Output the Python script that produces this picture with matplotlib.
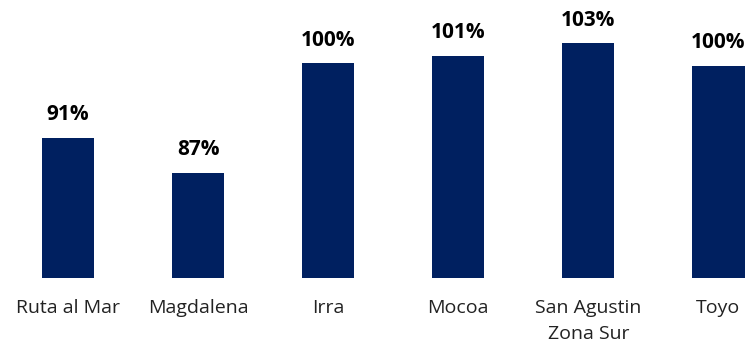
import matplotlib
matplotlib.use("Agg")
import matplotlib.pyplot as plt

# data
categories = ["Ruta al Mar", "Magdalena", "Irra", "Mocoa", "San Agustin\nZona Sur", "Toyo"]
values = [91.2, 87.0, 100.2, 101.1, 102.6, 99.9]
labels = ["91%", "87%", "100%", "101%", "103%", "100%"]

plt.rcParams['font.family'] = ['Open Sans', 'DejaVu Sans']

fig = plt.figure(figsize=(7.54, 3.47), dpi=100)
ax = fig.add_axes([0, 0.198, 1, 0.802])

x = list(range(len(categories)))
bars = ax.bar(x, values, width=0.4, color="#002060", bottom=0)

for b, lab in zip(bars, labels):
    ax.annotate(lab, (b.get_x() + b.get_width() / 2, b.get_height()),
                xytext=(0, 9), textcoords="offset points",
                ha="center", va="bottom", fontsize=15, fontweight="bold",
                color="black")

ax.set_xlim(-0.523, 5.273)
ax.set_ylim(74.3, 107.8)
ax.set_xticks(x)
ax.set_xticklabels(categories, fontsize=14, color="#222222", linespacing=1.55)
ax.tick_params(axis="x", length=0, pad=15)
ax.set_yticks([])
for s in ax.spines.values():
    s.set_visible(False)

fig.savefig("out.png", dpi=100)
